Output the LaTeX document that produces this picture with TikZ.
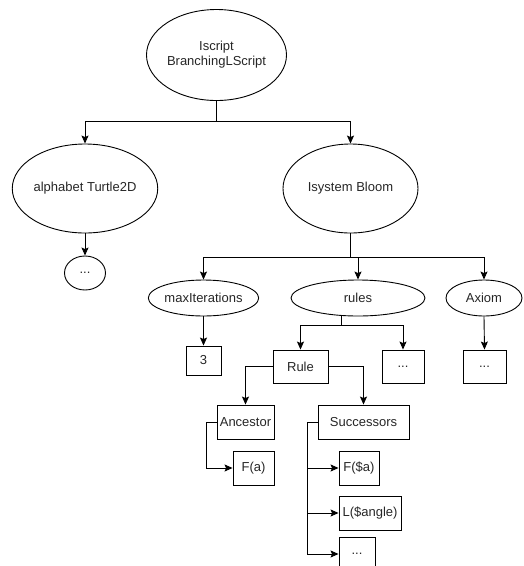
\documentclass[tikz,border=0pt]{standalone}
\usepackage{fontspec}
\setmainfont{Liberation Sans}
\usetikzlibrary{shapes.geometric,arrows.meta}
\begin{document}
\begin{tikzpicture}[x=1pt,y=-1pt,
  every node/.style={font=\fontsize{13}{15}\selectfont, text=black!85, inner sep=0pt},
  ell/.style={draw, ellipse, line width=0.9pt},
  bx/.style={draw, rectangle, line width=0.9pt},
  conn/.style={line width=0.9pt},
  arr/.style={conn, -{Stealth[length=8pt,width=7pt,inset=1.5pt]}}]
\useasboundingbox (0,0) rectangle (524,566);
\clip (0,0) rectangle (524,566);
% nodes
\node[ell, minimum width=137, minimum height=91, align=center] (top) at (216.5,55) {Iscript\\BranchingLScript};
\node[ell, minimum width=135, minimum height=89] (alpha) at (85,188.5) {alphabet Turtle2D};
\node[ell, minimum width=135, minimum height=89] (bloom) at (350.5,188.5) {Isystem Bloom};
\node[ell, minimum width=41, minimum height=34] (adots) at (85,273) {...};
\node[ell, minimum width=101, minimum height=36] (maxit) at (203.5,298) {maxIterations};
\node[ell, minimum width=134, minimum height=36] (rules) at (358,298) {rules};
\node[ell, minimum width=76, minimum height=36] (axiom) at (484,298) {Axiom};
\node[bx, minimum width=35, minimum height=29] (three) at (203.5,360.5) {3};
\node[bx, minimum width=55, minimum height=33] (rule) at (300.5,366.5) {Rule};
\node[bx, minimum width=42, minimum height=33] (rdots) at (403,366.5) {...};
\node[bx, minimum width=43, minimum height=33] (xdots) at (484.5,366.5) {...};
\node[bx, minimum width=57, minimum height=34] (anc) at (245.5,422) {Ancestor};
\node[bx, minimum width=91, minimum height=34] (succ) at (363.5,422) {Successors};
\node[bx, minimum width=41, minimum height=34] (fa) at (253.5,468) {F(a)};
\node[bx, minimum width=40, minimum height=34] (fsa) at (359,468) {F(\$a)};
\node[bx, minimum width=62, minimum height=34] (lang) at (370,513) {L(\$angle)};
\node[bx, minimum width=36, minimum height=34] (sdots) at (357,554) {...};
% junction coordinates
\coordinate (j1) at (216.5,121);
\coordinate (j2) at (350.5,257);
\coordinate (j3) at (341,325);
\coordinate (j4) at (206,422);
\coordinate (j5) at (307,422);
% connectors
\draw[conn] (top.south) -- (j1);
\draw[arr] (j1) -| (alpha.north);
\draw[arr] (j1) -| (bloom.north);
\draw[arr] (alpha.south) -- (adots.north);
\draw[conn] (bloom.south) -- (j2);
\draw[arr] (j2) -| (maxit.north);
\draw[arr] (j2) -| (rules.north);
\draw[arr] (j2) -| (axiom.north);
\draw[arr] (maxit.south) -- (three.north);
\draw[arr] (axiom.south) -- (xdots.north);
\draw[conn] (j3 |- rules.south) -- (j3);
\draw[arr] (j3) -| (rule.north);
\draw[arr] (j3) -| (rdots.north);
\draw[arr] (rule.west) -| (anc.north);
\draw[arr] (rule.east) -| (succ.north);
\draw[conn] (anc.west) -- (j4);
\draw[arr] (j4) |- (fa.west);
\draw[conn] (succ.west) -- (j5);
\draw[arr] (j5) |- (fsa.west);
\draw[arr] (j5) |- (lang.west);
\draw[arr] (j5) |- (sdots.west);
\end{tikzpicture}
\end{document}
